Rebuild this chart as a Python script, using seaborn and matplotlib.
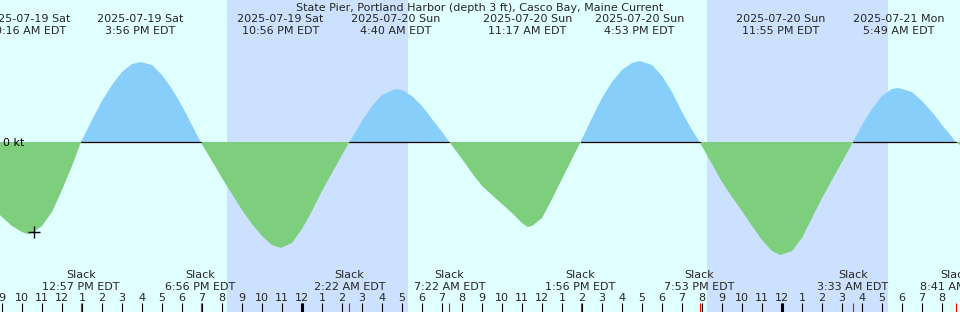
import numpy as np
import pandas as pd
import seaborn as sns
from matplotlib import pyplot as plt

# Hours after 9:00 AM EDT, Sat 2025-07-19, and current speed (kt)
hours = [-0.1, 0, 0.5, 1, 1.27, 1.5, 2, 2.5, 3, 3.5, 3.95,
         4.5, 5, 5.5, 6, 6.5, 6.93, 7.5, 8, 8.5, 9, 9.5, 9.93,
         10.5, 11, 11.5, 12, 12.5, 13, 13.5, 13.93, 14.5, 15, 15.5, 16, 16.5, 17, 17.37,
         17.5, 18, 18.5, 19, 19.67, 20, 20.5, 21, 21.5, 22, 22.37,
         23, 23.5, 24, 24.5, 25, 25.5, 26, 26.28, 26.5, 27, 27.5, 28, 28.5, 28.93,
         29.5, 30, 30.5, 31, 31.5, 31.88, 32.5, 33, 33.5, 34, 34.5, 34.88,
         35.5, 36, 36.5, 37, 37.5, 38, 38.5, 38.92, 39.5, 40, 40.5, 41, 41.5, 42, 42.55,
         43, 43.5, 44, 44.5, 44.82, 45.5, 46, 46.5, 47, 47.5, 47.68, 47.9]
speed = [-0.73, -0.75, -0.84, -0.90, -0.92, -0.91, -0.84, -0.70, -0.48, -0.24, 0.0,
         0.22, 0.41, 0.57, 0.70, 0.78, 0.80, 0.77, 0.67, 0.53, 0.36, 0.17, 0.0,
         -0.19, -0.36, -0.52, -0.68, -0.82, -0.94, -1.03, -1.06, -1.01, -0.87, -0.69, -0.49, -0.31, -0.13, 0.0,
         0.04, 0.21, 0.36, 0.47, 0.53, 0.52, 0.46, 0.36, 0.23, 0.10, 0.0,
         -0.17, -0.31, -0.44, -0.53, -0.62, -0.71, -0.81, -0.85, -0.84, -0.76, -0.57, -0.37, -0.17, 0.0,
         0.24, 0.44, 0.60, 0.72, 0.79, 0.81, 0.77, 0.66, 0.50, 0.30, 0.12, 0.0,
         -0.22, -0.40, -0.55, -0.69, -0.84, -0.98, -1.09, -1.13, -1.09, -0.96, -0.76, -0.56, -0.38, -0.20, 0.0,
         0.17, 0.33, 0.46, 0.53, 0.54, 0.50, 0.41, 0.30, 0.17, 0.05, 0.0, -0.03]

# Max flood / max ebb events (labels at top)
max_times = [1.27, 6.93, 13.93, 19.67, 26.28, 31.88, 38.92, 44.82]
max_dates = ['2025-07-19 Sat', '2025-07-19 Sat', '2025-07-19 Sat', '2025-07-20 Sun',
             '2025-07-20 Sun', '2025-07-20 Sun', '2025-07-20 Sun', '2025-07-21 Mon']
max_clock = ['10:16 AM EDT', '3:56 PM EDT', '10:56 PM EDT', '4:40 AM EDT',
             '11:17 AM EDT', '4:53 PM EDT', '11:55 PM EDT', '5:49 AM EDT']

# Slack water events (labels at bottom)
slack_times = [3.95, 9.93, 17.37, 22.37, 28.93, 34.88, 42.55, 47.68]
slack_clock = ['12:57 PM EDT', '6:56 PM EDT', '2:22 AM EDT', '7:22 AM EDT',
               '1:56 PM EDT', '7:53 PM EDT', '3:33 AM EDT', '8:41 AM EDT']

# Night periods (sunset -> sunrise)
nights = [(11.25, 20.3), (35.25, 44.3)]

# Hour ticks
tick_hours = list(range(0, 48))
tick_labels = [str((9 + h - 1) % 12 + 1) for h in tick_hours]
midnights = [15, 39]

# "now" marker
now_time = 1.6
now_speed = -0.90

title = 'State Pier, Portland Harbor (depth 3 ft), Casco Bay, Maine Current'

day_color = '#e0ffff'
night_color = '#cce0ff'
flood_color = '#87cefa'
ebb_color = '#7dce7d'

sns.set_theme(style='white')
plt.rcParams['font.family'] = ['DejaVu Sans']

df = pd.DataFrame({'hours': hours, 'speed': speed})
is_flood = (df['speed'] >= 0).to_numpy()
is_ebb = (df['speed'] <= 0).to_numpy()

H = 312.0  # figure height in px, for placing text rows


def yfrac(px):
    return 1 - px / H


fig = plt.figure(figsize=(9.6, 3.12), dpi=100)
ax = fig.add_axes([0, 0, 1, 1])
ax.set_facecolor(day_color)

# Night shading
for a, b in nights:
    ax.axvspan(a, b, color=night_color, lw=0, zorder=0)

# Current curve
ax.fill_between(df['hours'], 0, df['speed'], where=is_flood, color=flood_color,
                lw=0, zorder=2)
ax.fill_between(df['hours'], df['speed'], 0, where=is_ebb, color=ebb_color,
                lw=0, zorder=2)

# Zero line drawn along flood portions only
floods = df[is_flood].copy()
floods['run'] = (~is_flood).cumsum()[is_flood]
for _, seg in floods.groupby('run'):
    if len(seg) > 1:
        ax.plot([seg['hours'].min(), seg['hours'].max()], [0, 0],
                color='black', lw=0.9, zorder=3)

ax.set_xlim(-0.1, 47.9)
ax.set_ylim(-1.70, 1.42)
for s in ax.spines.values():
    s.set_visible(False)
ax.set_xticks([])
ax.set_yticks([])
ax.set_xlabel('')
ax.set_ylabel('')

ax.text(0.003, yfrac(146), '0 kt', transform=ax.transAxes, fontsize=8,
        ha='left', va='baseline', color='black')

# now marker
ax.plot([now_time], [now_speed], marker='+', color='black', ms=9, mew=1.0, zorder=4)

# Title and labels
xt = ax.get_xaxis_transform()
ax.text(0.5, yfrac(10.7), title, transform=ax.transAxes, ha='center',
        va='baseline', fontsize=8)
for t, d, c in zip(max_times, max_dates, max_clock):
    ax.text(t, yfrac(22), d, transform=xt, ha='center', va='baseline', fontsize=8)
    ax.text(t, yfrac(34), c, transform=xt, ha='center', va='baseline', fontsize=8)
for t, c in zip(slack_times, slack_clock):
    ax.text(t, yfrac(278), 'Slack', transform=xt, ha='center', va='baseline', fontsize=8)
    ax.text(t, yfrac(289.5), c, transform=xt, ha='center', va='baseline', fontsize=8)

# Hour ticks and labels
for h, lab in zip(tick_hours, tick_labels):
    ax.text(h, yfrac(300.7), lab, transform=xt, ha='center', va='baseline', fontsize=8)
ax.vlines(tick_hours, 0, 9 / H, transform=xt, color='black', lw=0.8, zorder=5)
ax.vlines(midnights, 0, 9 / H, transform=xt, color='black', lw=2.2, zorder=5)
ax.vlines(slack_times, 0, 9 / H, transform=xt, color='red', lw=0.8, zorder=6)

plt.savefig('out.png', dpi=100)
plt.close()
